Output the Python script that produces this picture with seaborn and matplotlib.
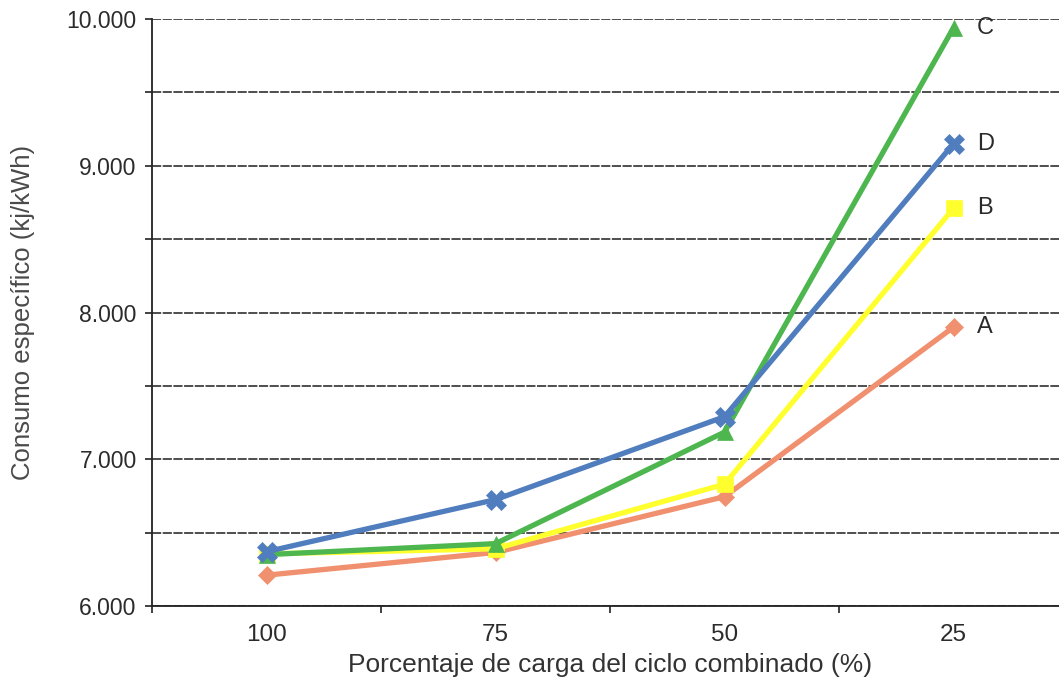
import matplotlib
matplotlib.use("Agg")
import matplotlib.pyplot as plt
import matplotlib.ticker as mticker
import seaborn as sns
import pandas as pd

categories = ["100", "75", "50", "25"]
series_names = ["A", "B", "C", "D"]
values_A = [6210, 6365, 6745, 7900]
values_B = [6355, 6390, 6830, 8710]
values_C = [6350, 6425, 7185, 9940]
values_D = [6370, 6725, 7290, 9150]
all_values = [values_A, values_B, values_C, values_D]

colors = {"A": "#F0906E", "B": "#FFFF2E", "C": "#4DB64F", "D": "#4F7DBE"}
markers = {"A": "D", "B": "s", "C": "^", "D": "X"}
marker_sizes = {"A": 9, "B": 11, "C": 12, "D": 14}

rows = []
for name, vals in zip(series_names, all_values):
    for c, v in zip(categories, vals):
        rows.append({"carga": c, "consumo": v, "serie": name})
df = pd.DataFrame(rows)

sns.set_theme(style="white")
plt.rcParams["font.family"] = ["Liberation Sans", "DejaVu Sans"]

fig = plt.figure(figsize=(10.59, 6.80), dpi=100)
ax = fig.add_axes([152 / 1059, 74 / 680, 916 / 1059, 587 / 680])

sns.lineplot(data=df, x="carga", y="consumo", hue="serie", style="serie",
             palette=colors, markers=markers, dashes=False, sort=False,
             linewidth=3.8, markersize=11, markeredgewidth=0.5,
             legend=False, ax=ax, zorder=3)

# marker edges match the line colour; per-series marker size
for line in ax.get_lines():
    col = line.get_color()
    line.set_markeredgecolor(col)
    for name, c in colors.items():
        if matplotlib.colors.to_hex(col).lower() == c.lower():
            line.set_markersize(marker_sizes[name])

ax.set_xlim(-0.5, 3.5)
ax.set_ylim(6000, 10000)

ax.yaxis.set_major_locator(mticker.MultipleLocator(1000))
ax.yaxis.set_minor_locator(mticker.MultipleLocator(500))
ax.yaxis.set_major_formatter(mticker.FuncFormatter(lambda v, p: f"{int(v):,}".replace(",", ".")))
ax.grid(True, which="both", axis="y", color="#1e1e1e", linestyle=(0, (6, 1.0)), linewidth=1.1, zorder=1)
ax.grid(False, axis="x")

ax.set_xticks(range(len(categories)))
ax.set_xticklabels(categories)
ax.xaxis.set_minor_locator(mticker.FixedLocator([-0.5, 0.5, 1.5, 2.5]))

ax.tick_params(axis="x", which="major", length=0, pad=13, labelsize=17.5, labelcolor="#2b2b2b")
ax.tick_params(axis="x", which="minor", length=5, width=1.2, color="#222", direction="out", bottom=True)
ax.tick_params(axis="y", which="major", length=5, width=1.2, color="#222", direction="out", left=True,
               pad=6, labelsize=16.5, labelcolor="#2b2b2b")
ax.tick_params(axis="y", which="minor", length=5, width=1.2, color="#222", direction="out", left=True)

for side in ["top", "right"]:
    ax.spines[side].set_visible(False)
for side in ["left", "bottom"]:
    ax.spines[side].set_color("#222")
    ax.spines[side].set_linewidth(1.3)

ax.set_xlabel("Porcentaje de carga del ciclo combinado (%)", fontsize=19, color="#333", labelpad=5)
ax.set_ylabel("Consumo específico (kj/kWh)", fontsize=18.5, color="#4a4a4a")
ax.yaxis.set_label_coords(-0.128, 0.5)

last = len(categories) - 1
for name, vals in zip(series_names, all_values):
    ax.annotate(name, xy=(last, vals[-1]), xytext=(17, 0), textcoords="offset points",
                ha="left", va="center", fontsize=17, color="#2b2b2b")

fig.savefig("out.png", dpi=100)
